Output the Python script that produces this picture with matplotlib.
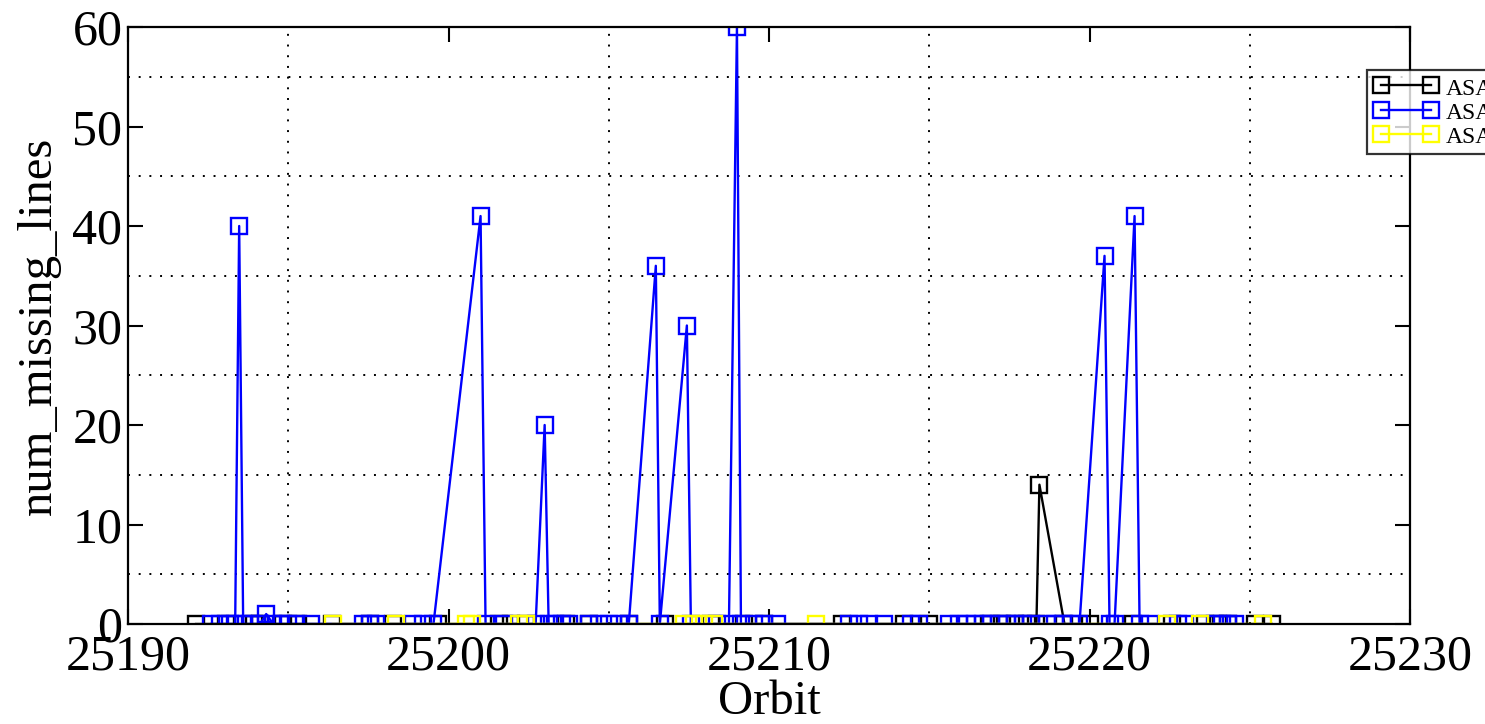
import matplotlib
matplotlib.use("Agg")
import matplotlib.pyplot as plt
import numpy as np

# ---- data ----
def px(p):
    return 25190 + (p - 130) / 32.0

black_px = [198, 228, 256, 262, 285, 300, 334, 372, 395, 440, 500, 512, 527, 567, 590,
            630, 666, 712, 745, 765, 843, 905, 930, 990, 1003, 1016, 1028, 1037, 1040, 1065,
            1090, 1133, 1172, 1205, 1218, 1228, 1255, 1272]
black_y = [0] * len(black_px)
black_y[black_px.index(1040)] = 14
black_x = [px(p) for p in black_px]

blue_px = [213, 222, 232, 237, 241, 245, 252, 262, 268, 275, 283, 290, 298, 313,
           365, 372, 378, 415, 425, 435, 482, 487, 505, 537, 546, 550, 556, 563, 570,
           590, 600, 610, 620, 630, 657, 661, 688, 692, 718, 730, 738, 742, 755, 765, 778,
           850, 860, 870, 885, 912, 920, 950, 960, 968, 976, 984, 992, 1000, 1008, 1016,
           1024, 1032, 1048, 1056, 1064, 1072, 1080, 1105, 1110, 1115, 1135, 1140, 1150,
           1178, 1185, 1215, 1222, 1228, 1235]
blue_vals = {241: 40, 268: 1, 482: 41, 546: 20, 657: 36, 688: 30, 738: 60, 1105: 37, 1135: 41}
blue_x = [px(p) for p in blue_px]
blue_y = [blue_vals.get(p, 0) for p in blue_px]

yellow_px = [335, 398, 467, 473, 520, 527, 685, 695, 705, 715, 817, 1167, 1200, 1263]
yellow_x = [px(p) for p in yellow_px]
yellow_y = [0] * len(yellow_px)

labels = ["ASA_IMM_1P", "ASA_APM_1P", "ASA_WSM_1P"]
xticks = [25190, 25200, 25210, 25220, 25230]
yticks = [0, 10, 20, 30, 40, 50, 60]

# ---- figure ----
plt.rcParams['font.family'] = ['Liberation Serif', 'DejaVu Serif']
fig = plt.figure(figsize=(14.85, 7.24), dpi=100)
ax = fig.add_axes([128/1485, 1 - 624/724, (1410-128)/1485, (624-27)/724])

mk = dict(marker='s', markersize=12, markerfacecolor='none', markeredgewidth=1.7, linewidth=1.7)
ax.plot(black_x, black_y, color='black', label=labels[0], **mk)
ax.plot(blue_x, blue_y, color='#0000ff', label=labels[1], **mk)
ax.plot(yellow_x, yellow_y, color='#ffff00', label=labels[2], **mk)

ax.set_xlim(25190, 25230)
ax.set_ylim(0, 60)
ax.set_xticks(xticks)
ax.set_yticks(yticks)
ax.set_xticks([25195, 25205, 25215, 25225], minor=True)
ax.set_yticks([5, 15, 25, 35, 45, 55], minor=True)
ax.grid(which='minor', color='black', linestyle=(0, (1, 4.5)), linewidth=1.4)
ax.grid(which='major', visible=False)
ax.tick_params(which='major', direction='in', length=11, width=1.5, top=True, right=True,
               labelsize=36)
ax.tick_params(axis='x', which='major', pad=7)
ax.tick_params(axis='y', which='major', pad=4)
ax.tick_params(which='minor', length=0)
for s in ax.spines.values():
    s.set_linewidth(1.6)
ax.set_xlabel('Orbit', fontsize=35, labelpad=0)
ax.set_ylabel('num_missing_lines', fontsize=35, labelpad=8)

leg = fig.legend(loc='upper left', bbox_to_anchor=(1367/1485, 1 - 70/724), numpoints=2,
                 fontsize=17, frameon=True, fancybox=False, edgecolor='black',
                 handlelength=2.7, handletextpad=0.35, borderpad=0.3, labelspacing=0.12,
                 borderaxespad=0)
leg.get_frame().set_linewidth(1.6)
for h in leg.legend_handles:
    h.set_markersize(11)

fig.savefig('out.png', dpi=100)
